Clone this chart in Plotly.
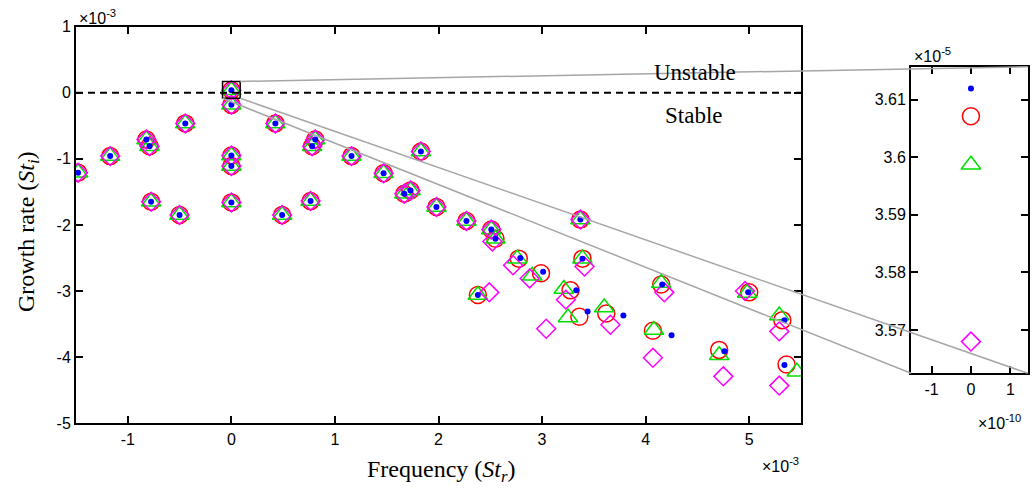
import plotly.graph_objects as go

# ---------------- data (main plot, units of 1e-3) ----------------
dot_x = [-1.48, -1.17, -0.82, -0.79, -0.445, -0.775, -0.50, 0, 0, 0, 0, 0,
         0.425, 0.49, 0.81, 0.78, 0.765, 1.16, 1.47, 1.83, 1.67, 1.73, 1.98, 2.27,
         2.51, 2.55, 2.79, 3.01, 2.38, 3.37, 3.39, 3.33, 3.44, 3.785, 4.16, 4.25,
         4.99, 4.76, 5.34, 5.34]
dot_y = [-1.21, -0.96, -0.71, -0.81, -0.465, -1.65, -1.85, 0.0361, -0.185, -0.95, -1.11, -1.66,
         -0.465, -1.85, -0.71, -0.81, -1.64, -0.96, -1.22, -0.89, -1.53, -1.48, -1.73, -1.94,
         -2.07, -2.21, -2.50, -2.71, -3.06, -1.92, -2.51, -2.99, -3.31, -3.37, -2.90, -3.67,
         -3.02, -3.91, -3.44, -4.12]

circ_x = [-1.48, -1.17, -0.82, -0.79, -0.445, -0.775, -0.50, 0, 0, 0, 0, 0,
          0.425, 0.49, 0.81, 0.78, 0.765, 1.16, 1.47, 1.83, 1.67, 1.73, 1.98, 2.27,
          2.51, 2.55, 2.775, 2.99, 2.38, 3.37, 3.39, 3.275, 3.36, 3.62, 4.15, 4.07,
          5.00, 4.71, 5.32, 5.36]
circ_y = [-1.21, -0.96, -0.71, -0.81, -0.465, -1.65, -1.85, 0.03607, -0.185, -0.95, -1.11, -1.66,
          -0.465, -1.85, -0.71, -0.81, -1.64, -0.96, -1.22, -0.89, -1.53, -1.48, -1.73, -1.94,
          -2.07, -2.21, -2.51, -2.73, -3.06, -1.92, -2.51, -2.99, -3.39, -3.34, -2.90, -3.60,
          -3.02, -3.89, -3.44, -4.11]

tri_x = [-1.48, -1.17, -0.82, -0.79, -0.445, -0.775, -0.50, 0, 0, 0, 0, 0,
         0.425, 0.49, 0.81, 0.78, 0.765, 1.16, 1.47, 1.83, 1.67, 1.73, 1.98, 2.27,
         2.51, 2.55, 2.76, 2.905, 2.38, 3.37, 3.39, 3.21, 3.25, 3.60, 4.15, 4.08,
         4.98, 4.71, 5.29, 5.46]
tri_y = [-1.21, -0.96, -0.71, -0.81, -0.465, -1.65, -1.85, 0.03599, -0.185, -0.95, -1.11, -1.66,
         -0.465, -1.85, -0.71, -0.81, -1.64, -0.96, -1.22, -0.89, -1.53, -1.48, -1.73, -1.94,
         -2.07, -2.21, -2.51, -2.77, -3.06, -1.92, -2.51, -2.97, -3.40, -3.25, -2.88, -3.59,
         -3.03, -3.97, -3.37, -4.22]

dia_x = [-1.48, -1.17, -0.82, -0.79, -0.445, -0.775, -0.50, 0, 0, 0, 0, 0,
         0.425, 0.49, 0.81, 0.78, 0.765, 1.16, 1.47, 1.83, 1.67, 1.73, 1.98, 2.27,
         2.51, 2.52, 2.72, 2.88, 2.49, 3.37, 3.41, 3.23, 3.04, 3.66, 4.18, 4.07,
         4.96, 4.75, 5.29, 5.29]
dia_y = [-1.21, -0.96, -0.71, -0.81, -0.465, -1.65, -1.85, 0.0357, -0.185, -0.95, -1.11, -1.66,
         -0.465, -1.85, -0.71, -0.81, -1.64, -0.96, -1.22, -0.89, -1.53, -1.48, -1.73, -1.94,
         -2.07, -2.25, -2.61, -2.81, -3.02, -1.92, -2.63, -3.13, -3.57, -3.51, -3.02, -4.01,
         -3.00, -4.29, -3.61, -4.43]

# ---------------- data (inset, x in 1e-10, y in 1e-5) ----------------
inset_dot_x, inset_dot_y = [0], [3.6119]
inset_circ_x, inset_circ_y = [0], [3.6071]
inset_tri_x, inset_tri_y = [0], [3.5987]
inset_dia_x, inset_dia_y = [0], [3.5680]

main_xticks = [-1, 0, 1, 2, 3, 4, 5]
main_xticktext = ["-1", "0", "1", "2", "3", "4", "5"]
main_yticks = [-5, -4, -3, -2, -1, 0, 1]
main_yticktext = ["-5", "-4", "-3", "-2", "-1", "0", "1"]
inset_xticks = [-1, 0, 1]
inset_xticktext = ["-1", "0", "1"]
inset_yticks = [3.57, 3.58, 3.59, 3.60, 3.61]
inset_yticktext = ["3.57", "3.58", "3.59", "3.6", "3.61"]

# ---------------- layout geometry ----------------
W, H = 1032, 489


def px(x):
    return x / W


def py(y):
    return 1 - y / H


main_xr = [-1.5, 5.5]
main_yr = [-5, 1]
inset_xr = [-1.52, 1.44]
inset_yr = [3.5625, 3.6157]
main_xdom = [px(76), px(801)]
main_ydom = [py(423.3), py(26.5)]
inset_xdom = [px(911), px(1027.7)]
inset_ydom = [py(373.3), py(66.7)]

box_x = [-0.085, 0.085]
box_y = [-0.085, 0.17]

RED, GREEN, MAG, BLUE = "#ff0000", "#00e000", "#ff00ff", "#0000ff"

fig = go.Figure()


def add_series(pairs, xa, ya):
    (cx, cy), (tx, ty), (dx, dy), (bx, by) = pairs
    fig.add_trace(go.Scatter(x=cx, y=cy, mode="markers", xaxis=xa, yaxis=ya,
                             marker=dict(symbol="circle-open", size=17, color=RED,
                                         line=dict(width=1.5, color=RED))))
    fig.add_trace(go.Scatter(x=tx, y=ty, mode="markers", xaxis=xa, yaxis=ya,
                             marker=dict(symbol="triangle-up-open", size=17, color=GREEN,
                                         line=dict(width=1.5, color=GREEN))))
    fig.add_trace(go.Scatter(x=dx, y=dy, mode="markers", xaxis=xa, yaxis=ya,
                             marker=dict(symbol="diamond-open", size=14.5, color=MAG,
                                         line=dict(width=1.5, color=MAG))))
    fig.add_trace(go.Scatter(x=bx, y=by, mode="markers", xaxis=xa, yaxis=ya,
                             marker=dict(symbol="circle", size=6, color=BLUE, line=dict(width=0))))


add_series([(circ_x, circ_y), (tri_x, tri_y), (dia_x, dia_y), (dot_x, dot_y)], "x", "y")
add_series([(inset_circ_x, inset_circ_y), (inset_tri_x, inset_tri_y),
            (inset_dia_x, inset_dia_y), (inset_dot_x, inset_dot_y)], "x2", "y2")

tickfont = dict(family="Liberation Sans, Arial, sans-serif", size=16, color="black")
axis_common = dict(showgrid=False, zeroline=False, showline=True, linecolor="black", linewidth=2,
                   mirror="ticks", ticks="inside", ticklen=7, tickwidth=1.5, tickcolor="black",
                   tickfont=tickfont, fixedrange=True, automargin=False)

fig.update_layout(
    template="none",
    width=W, height=H, autosize=False, margin=dict(l=0, r=0, t=0, b=0, pad=0),
    paper_bgcolor="white", plot_bgcolor="white", showlegend=False,
    xaxis=dict(domain=main_xdom, range=main_xr, tickvals=main_xticks, ticktext=main_xticktext,
               anchor="y", **axis_common),
    yaxis=dict(domain=main_ydom, range=main_yr, tickvals=main_yticks, ticktext=main_yticktext,
               anchor="x", **axis_common),
    xaxis2=dict(domain=inset_xdom, range=inset_xr, tickvals=inset_xticks, ticktext=inset_xticktext,
                anchor="y2", **axis_common),
    yaxis2=dict(domain=inset_ydom, range=inset_yr, tickvals=inset_yticks, ticktext=inset_yticktext,
                anchor="x2", **axis_common),
)


def main_to_paper(x, y):
    ppx = main_xdom[0] + (x - main_xr[0]) / (main_xr[1] - main_xr[0]) * (main_xdom[1] - main_xdom[0])
    ppy = main_ydom[0] + (y - main_yr[0]) / (main_yr[1] - main_yr[0]) * (main_ydom[1] - main_ydom[0])
    return ppx, ppy


shapes = []
# stability boundary
shapes.append(dict(type="line", xref="x", yref="y", x0=main_xr[0], x1=main_xr[1], y0=0, y1=0,
                   line=dict(color="black", width=2, dash="7px,5px")))
# zoom box
shapes.append(dict(type="rect", xref="x", yref="y", x0=box_x[0], x1=box_x[1], y0=box_y[0], y1=box_y[1],
                   line=dict(color="black", width=1.5)))
# connector lines
gray = "#a6a6a6"
p_tr = main_to_paper(box_x[1], box_y[1])
p_bl = main_to_paper(box_x[0], box_y[0])
p_br = main_to_paper(box_x[1], box_y[0])
for (ax, ay), (bx, by) in [(p_tr, (inset_xdom[1], inset_ydom[1])),
                           (p_bl, (inset_xdom[0], inset_ydom[0])),
                           (p_br, (inset_xdom[1], inset_ydom[0]))]:
    shapes.append(dict(type="line", xref="paper", yref="paper", x0=ax, y0=ay, x1=bx, y1=by,
                       line=dict(color=gray, width=1.5)))
fig.update_layout(shapes=shapes)

serif = "Liberation Serif, Times New Roman, serif"
sans = "Liberation Sans, Arial, sans-serif"
ann = [
    dict(x=px(77), y=py(17), text="×10<sup>-3</sup>", xanchor="left", yanchor="middle",
         font=dict(family=sans, size=16, color="black")),
    dict(x=px(760), y=py(465), text="×10<sup>-3</sup>", xanchor="left", yanchor="middle",
         font=dict(family=sans, size=16, color="black")),
    dict(x=px(912), y=py(55), text="×10<sup>-5</sup>", xanchor="left", yanchor="middle",
         font=dict(family=sans, size=16, color="black")),
    dict(x=px(976), y=py(422), text="×10<sup>-10</sup>", xanchor="left", yanchor="middle",
         font=dict(family=sans, size=16, color="black")),
    dict(x=px(695), y=py(72), text="Unstable", xanchor="center", yanchor="middle",
         font=dict(family=serif, size=23, color="black")),
    dict(x=px(694), y=py(115), text="Stable", xanchor="center", yanchor="middle",
         font=dict(family=serif, size=23, color="black")),
    dict(x=px(441), y=py(471), text="Frequency (<i>St<sub>r</sub></i>)", xanchor="center",
         yanchor="middle", font=dict(family=serif, size=24, color="black")),
    dict(x=px(28), y=py(232), text="Growth rate (<i>St<sub>i</sub></i>)", xanchor="center",
         yanchor="middle", textangle=-90, font=dict(family=serif, size=24, color="black")),
]
for a in ann:
    a.update(xref="paper", yref="paper", showarrow=False)
fig.update_layout(annotations=ann)

# remove the default page margin so the figure sits at the window's origin
fig.write_html("out.html",
               config={"displayModeBar": False},
               post_script="document.body.style.margin='0';document.body.style.overflow='hidden';")
